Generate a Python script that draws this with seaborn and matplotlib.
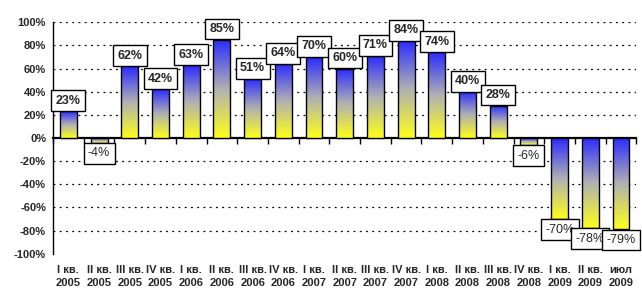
import numpy as np
import pandas as pd
import matplotlib
matplotlib.use("Agg")
import matplotlib.pyplot as plt
from matplotlib.colors import LinearSegmentedColormap
import seaborn as sns

categories = ["I кв.\n2005", "II кв.\n2005", "III кв.\n2005", "IV кв.\n2005",
              "I кв.\n2006", "II кв.\n2006", "III кв.\n2006", "IV кв.\n2006",
              "I кв.\n2007", "II кв.\n2007", "III кв.\n2007", "IV кв.\n2007",
              "I кв.\n2008", "II кв.\n2008", "III кв.\n2008", "IV кв.\n2008",
              "I кв.\n2009", "II кв.\n2009", "июл\n2009"]
values = [23, -4, 62, 42, 63, 85, 51, 64, 70, 60, 71, 84, 74, 40, 28, -6, -70, -78, -79]
y_ticks = [-100, -80, -60, -40, -20, 0, 20, 40, 60, 80, 100]

sns.set_style("white")
plt.rcParams['font.family'] = ['Liberation Sans', 'DejaVu Sans']

df = pd.DataFrame({"cat": categories, "val": values})

fig = plt.figure(figsize=(6.42, 3.0), dpi=100)
ax = fig.add_axes([53/642, 1 - 253.7/300, (636.4 - 53)/642, (253.7 - 22.3)/300])

sns.barplot(data=df, x="cat", y="val", ax=ax, width=0.55, color="white",
            edgecolor="black", linewidth=1.0, saturation=1)

cmap = LinearSegmentedColormap.from_list("by", ["#FFFF1A", "#B0B0B4", "#2A2AFF"])
grad = np.linspace(0, 1, 256).reshape(-1, 1)
for p in ax.patches:
    x0 = p.get_x()
    w = p.get_width()
    y0 = p.get_y()
    h = p.get_height()
    lo, hi = min(y0, y0 + h), max(y0, y0 + h)
    im = ax.imshow(grad, extent=[x0, x0 + w, lo, hi], origin="lower",
                   aspect="auto", cmap=cmap, zorder=p.get_zorder() - 0.1)
    im.set_clip_path(p)
    p.set_facecolor("none")

ax.set_xlim(-0.5, len(categories) - 0.5)
ax.set_ylim(-100, 100)

# labels
cont = ax.containers[0]
pos_labels = [f"{v}%" if v >= 0 else "" for v in values]
neg_labels = [f"{v}%" if v < 0 else "" for v in values]
box = dict(boxstyle="square,pad=0.35", facecolor="white", edgecolor="black", linewidth=1.0)
ax.bar_label(cont, labels=pos_labels, padding=3.3, fontsize=9, fontweight="bold",
             bbox=box, clip_on=False, zorder=5)
ax.bar_label(cont, labels=neg_labels, padding=3.3, fontsize=9, fontweight="normal",
             bbox=box, clip_on=False, zorder=5)

# grid
ax.set_yticks(y_ticks)
ax.set_yticklabels([f"{t}%" for t in y_ticks], fontsize=8, fontweight="bold")
for t in y_ticks:
    if t not in (0, -100):
        ax.axhline(t, color="black", linewidth=0.9, linestyle=(0, (1.5, 3.5)), zorder=0)

ax.tick_params(axis="y", direction="out", length=3, width=1, color="black", pad=2)
ax.tick_params(axis="x", length=0, pad=8)
for lbl in ax.get_xticklabels():
    lbl.set_fontsize(8)
    lbl.set_fontweight("bold")
    lbl.set_linespacing(1.45)
ax.set_xlabel("")
ax.set_ylabel("")

for s in ["top", "right", "bottom"]:
    ax.spines[s].set_visible(False)
ax.spines["left"].set_color("black")
ax.spines["left"].set_linewidth(1.0)

# zero axis with boundary ticks
sec = ax.secondary_xaxis(0, transform=ax.transData)
sec.set_xticks(np.arange(-0.5, len(categories), 1.0))
sec.set_xticklabels([])
sec.tick_params(length=4, width=1, color="black", direction="out")
sec.spines["bottom"].set_linewidth(1.6)
sec.spines["bottom"].set_color("black")

fig.savefig("out.png", dpi=100)
